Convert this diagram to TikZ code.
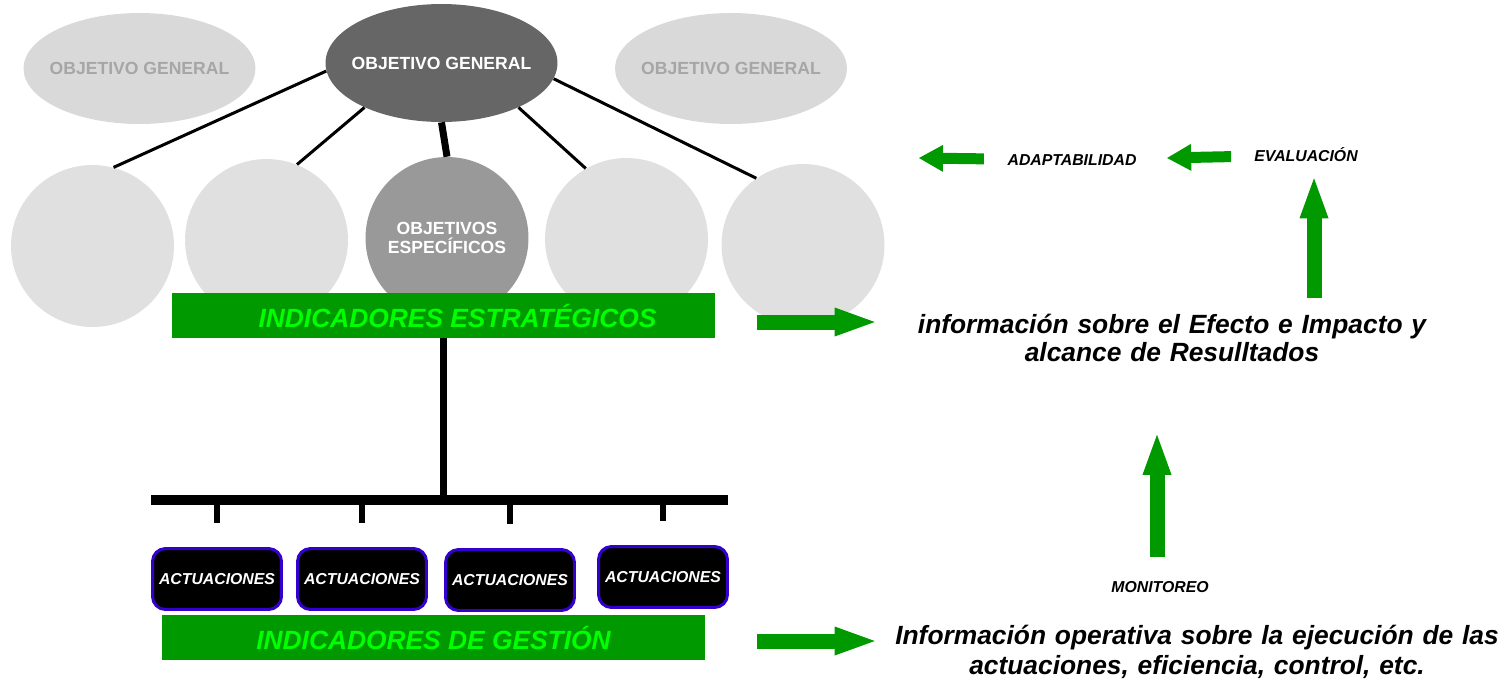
\documentclass[tikz,border=0pt]{standalone}
\usepackage{fontspec}
\setmainfont{Liberation Sans}
\usetikzlibrary{shapes.geometric, arrows.meta, positioning}

\definecolor{ogfill}{RGB}{217,217,217}
\definecolor{ogtext}{RGB}{166,166,166}
\definecolor{oefill}{RGB}{224,224,224}
\definecolor{darkog}{RGB}{102,102,102}
\definecolor{midoe}{RGB}{153,153,153}
\definecolor{bargreen}{RGB}{0,153,0}
\definecolor{lightgreen}{RGB}{0,255,0}
\definecolor{actblue}{RGB}{51,0,204}

\begin{document}
\begin{tikzpicture}[x=0.02cm, y=-0.02cm,
        general/.style={ellipse, fill=ogfill, minimum width=4.64cm, minimum height=2.22cm, inner sep=0,
            text=ogtext, font=\fontsize{10}{12}\selectfont\bfseries},
        especifico/.style={ellipse, fill=oefill, minimum width=3.26cm, minimum height=3.24cm, inner sep=0},
        indicador/.style={fill=bargreen, minimum width=10.86cm, minimum height=0.9cm,
            text=lightgreen, font=\fontsize{15}{18}\selectfont\bfseries\itshape},
        actuacion/.style={draw=actblue, line width=1.7pt, fill=black, rounded corners=0.26cm,
            minimum width=2.58cm, minimum height=1.22cm, text=white, font=\fontsize{9}{11}\selectfont\bfseries\itshape},
        etiqueta/.style={font=\fontsize{9}{11}\selectfont\bfseries\itshape},
        info/.style={inner sep=0, align=center, font=\fontsize{15}{15.5}\selectfont\bfseries\itshape},
        flecha/.style={bargreen, line width=0.3cm, -{Triangle[width=0.58cm, length=0.8cm, line width=0pt]}},
        flechita/.style={bargreen, line width=0.22cm, -{Triangle[width=0.54cm, length=0.48cm, line width=0pt]}}]
        \useasboundingbox (0,0) rectangle (1504,680);

        \node[especifico] (oe1) at (92.5,246) {};
        \node[especifico] (oe2) at (266.5,240) {};
        \node[especifico, fill=midoe, text=white, align=center, font=\fontsize{10}{10.5}\selectfont\bfseries]
            (oe3) at (447,238) {\makebox[0pt]{OBJETIVOS}\\\makebox[0pt]{ESPECÍFICOS}};
        \node[especifico] (oe4) at (626.5,239) {};
        \node[especifico] (oe5) at (803,245) {};

        \node[general] (ogl) at (139.5,68.5) {\makebox[0pt]{OBJETIVO GENERAL}};
        \node[general, fill=darkog, text=white, minimum height=2.36cm] (og) at (441.5,63) {\makebox[0pt]{OBJETIVO GENERAL}};
        \node[general] (ogr) at (731,68.5) {\makebox[0pt]{OBJETIVO GENERAL}};

        \path[line width=0.06cm]
                (og.184) edge (oe1.75)
                (og.210) edge (oe2.68)
                (og.south) edge [line width=0.14cm] (oe3.north)
                (og.330) edge (oe4.120)
                (og.352) edge (oe5.125);

        \node[indicador] (est) at (443.5,315.5) {\hspace*{0.56cm}INDICADORES ESTRATÉGICOS};

        \coordinate (hl) at (151,500);
        \coordinate (hr) at (728,500);
        \draw[line width=0.2cm] (hl) -- (hr);
        \draw[line width=0.15cm] (est.south) -- (est.south |- hl);

        \node[actuacion] (act1) at (217,579) {ACTUACIONES};
        \node[actuacion] (act2) at (362,579) {ACTUACIONES};
        \node[actuacion] (act3) at (510,580) {ACTUACIONES};
        \node[actuacion] (act4) at (663,577) {ACTUACIONES};
        \path[line width=0.12cm, shorten >=0.48cm]
                (act1.north |- hl) edge (act1.north)
                (act2.north |- hl) edge (act2.north)
                (act3.north |- hl) edge (act3.north)
                (act4.north |- hl) edge (act4.north);

        \node[indicador] (ges) at (433.5,637.5) {INDICADORES DE GESTIÓN};

        \node[info, text width=10.4cm] (infoEf) at (1172,338) {información sobre el Efecto e Impacto y\\alcance de Resulltados};
        \node[info, text width=12.4cm, font=\fontsize{15}{17}\selectfont\bfseries\itshape]
            (infoOp) at (1197,652) {Información operativa sobre la ejecución de las\\actuaciones, eficiencia, control, etc.};

        \node[etiqueta] (mon) at (1160,587) {MONITOREO};
        \node[etiqueta] (eval) at (1306,155) {EVALUACIÓN};
        \node[etiqueta] (adap) at (1072,160) {ADAPTABILIDAD};
        \coordinate (adapfin) at (919,158);

        \draw[flecha, shorten >=0.74cm] ([shift={(42,6.5)}]est.east) -- ([shift={(0,6.5)}]est.east -| infoEf.west);
        \draw[flecha, shorten >=0.24cm] ([shift={(52,3.5)}]ges.east) -- ([shift={(0,3.5)}]ges.east -| infoOp.west);
        \draw[flecha, shorten <=0.36cm, shorten >=1.46cm] ([xshift=-0.06cm]mon.north) -- ([xshift=-0.06cm]mon.north |- infoEf.south);
        \draw[flecha, shorten <=0.32cm, shorten >=0.2cm] ([xshift=0.16cm]eval.south |- infoEf.north) -- ([xshift=0.16cm]eval.south);
        \draw[flechita, shorten <=0.34cm, shorten >=0.49cm] (eval) -- (adap);
        \draw[flechita, shorten <=0.35cm] (adap) -- (adapfin);
\end{tikzpicture}
\end{document}
